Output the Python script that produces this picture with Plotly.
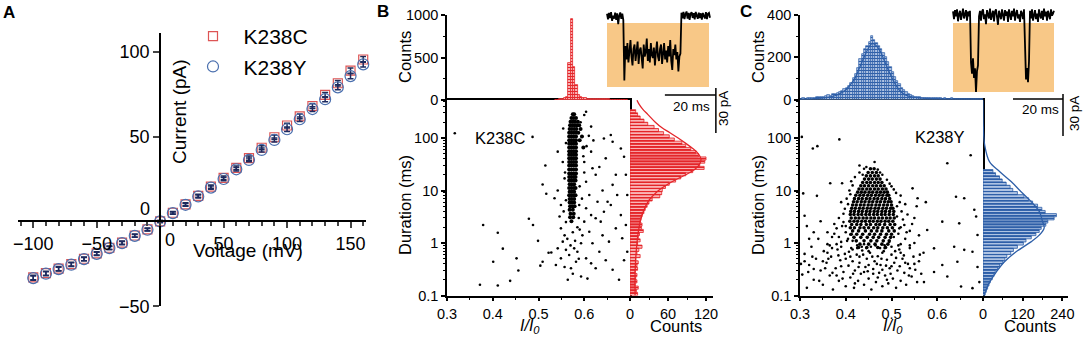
import numpy as np
import plotly.graph_objects as go

W, H = 1084, 337
FONT = "Liberation Sans, Arial, Helvetica, sans-serif"

# ======================= DATA =======================
# ---- Panel A : I-V curves ----
voltage_mV = [-100, -90, -80, -70, -60, -50, -40, -30, -20, -10, 0, 10, 20, 30, 40, 50,
              60, 70, 80, 90, 100, 110, 120, 130, 140, 150, 160]
current_K238C = [-33.0, -30.5, -27.8, -25.2, -22.0, -18.8, -15.5, -12.5, -8.3, -4.7, 0.0, 5.1,
                 10.1, 15.1, 20.5, 25.7, 31.6, 37.3, 43.4, 49.6, 56.5, 61.9, 68.0, 74.5, 81.4,
                 88.8, 95.4]
current_K238Y = [-33.4, -30.8, -28.1, -25.5, -22.2, -19.1, -15.7, -12.8, -8.5, -4.9, 0.0, 4.9,
                 9.8, 14.7, 19.9, 25.0, 30.7, 36.2, 42.1, 48.0, 54.3, 60.2, 66.2, 72.0, 79.0,
                 85.6, 92.5]
sem_K238C = [1.3, 1.2, 1.2, 1.1, 1.1, 1.0, 1.0, 0.9, 0.9, 0.8, 0.6, 0.8, 0.9, 0.9, 1.0, 1.0,
             1.1, 1.2, 1.2, 1.3, 1.4, 1.4, 1.5, 1.5, 1.6, 1.6, 1.7]
sem_K238Y = [1.2, 1.2, 1.1, 1.1, 1.0, 1.0, 0.9, 0.9, 0.8, 0.8, 0.6, 0.7, 0.8, 0.9, 0.9, 1.0,
             1.0, 1.1, 1.2, 1.2, 1.3, 1.3, 1.4, 1.5, 1.5, 1.6, 1.6]

# ---- Panel B (K238C) ----
topB_bin0, topB_binw = 0.538, 0.005
topB_counts = [4, 5, 8, 10, 18, 40, 430, 950, 390, 180, 60, 40, 28, 20, 16, 12, 10, 12, 9, 8,
               10, 7, 6, 6, 5, 5, 4, 4, 3, 3, 3, 2]
rightB_log0, rightB_logw = -1.0, 0.06
rightB_counts = [12, 10, 13, 8, 11, 9, 11, 8, 12, 11, 13, 9, 16, 11, 14, 19, 12, 16, 13, 15,
                 21, 18, 19, 16, 17, 19, 22, 24, 27, 30, 35, 47, 50, 51, 56, 62, 72, 80, 88, 99,
                 117, 110, 118, 120, 108, 104, 96, 88, 82, 70, 62, 53, 45, 38, 28, 22, 16, 12, 9]
fitB_dur = [525, 447, 355, 282, 200, 158, 126, 100, 79, 63, 50, 40, 32, 25, 20, 16, 12.6, 10,
            7.9, 6.3, 4.0, 2.5, 1.6, 1.0, 0.5, 0.25, 0.126, 0.1]
fitB_cnt = [11, 14, 20, 28, 40, 50, 63, 76, 88, 99, 108, 112, 110, 102, 88, 72, 57, 45, 36, 29,
            21, 16, 13, 11, 9, 8, 8, 8]
bandB_dur = [282, 240, 204, 174, 148, 126, 107, 91, 78, 66, 56, 48, 41, 35, 30, 25, 21, 18,
             15.5, 13.2, 11.2, 9.5, 8.1, 6.9, 5.9, 5.0, 4.3, 3.6, 3.1, 2.6]
bandB_x = [[0.575, 0.578], [0.572, 0.577, 0.582], [0.570, 0.575, 0.580, 0.586],
           [0.569, 0.574, 0.579, 0.584, 0.589], [0.568, 0.573, 0.578, 0.583, 0.592],
           [0.567, 0.572, 0.577, 0.582, 0.587], [0.567, 0.572, 0.577, 0.582, 0.595],
           [0.567, 0.572, 0.577, 0.582, 0.590], [0.567, 0.572, 0.577, 0.582],
           [0.567, 0.572, 0.577, 0.582, 0.598], [0.567, 0.572, 0.577, 0.582],
           [0.567, 0.572, 0.577, 0.582], [0.567, 0.572, 0.577, 0.582],
           [0.567, 0.572, 0.577, 0.582], [0.567, 0.572, 0.577, 0.582],
           [0.567, 0.572, 0.577, 0.582], [0.567, 0.572, 0.577, 0.582],
           [0.567, 0.572, 0.577, 0.581], [0.567, 0.572, 0.577, 0.581], [0.568, 0.573, 0.578],
           [0.567, 0.572, 0.577, 0.581], [0.568, 0.573, 0.578], [0.567, 0.572, 0.577, 0.581],
           [0.568, 0.573, 0.578], [0.568, 0.573, 0.578], [0.569, 0.574, 0.579],
           [0.568, 0.575], [0.570, 0.577], [0.569, 0.576], [0.572]]
eventsB = [(0.317, 123), (0.487, 105), (0.379, 2.2), (0.411, 1.57), (0.422, 0.78), (0.401, 0.44),
           (0.452, 0.51), (0.456, 0.30), (0.438, 0.19), (0.372, 0.16), (0.411, 0.155),
           (0.479, 2.9), (0.488, 2.2), (0.499, 1.1), (0.504, 0.37), (0.509, 0.44), (0.515, 30),
           (0.509, 13), (0.517, 8.7), (0.522, 0.65), (0.528, 0.66), (0.535, 7.1), (0.542, 55),
           (0.546, 3.2), (0.549, 1.9), (0.553, 1.06), (0.557, 0.35), (0.564, 0.2), (0.575, 0.26),
           (0.582, 0.44), (0.593, 0.23), (0.604, 0.51), (0.607, 0.21), (0.615, 0.41),
           (0.625, 0.33), (0.633, 0.68), (0.647, 0.47), (0.662, 0.31), (0.676, 0.2),
           (0.687, 0.47), (0.694, 0.68), (0.683, 1.23), (0.669, 1.9), (0.654, 1.06), (0.64, 1.4),
           (0.618, 0.99), (0.611, 1.64), (0.6, 2.55), (0.625, 2.96), (0.643, 3.94), (0.658, 5.3),
           (0.68, 3.4), (0.691, 2.2), (0.672, 8.2), (0.662, 12.8), (0.64, 10), (0.625, 20),
           (0.633, 28), (0.647, 41), (0.662, 85), (0.68, 63), (0.687, 44), (0.691, 20),
           (0.694, 8.2), (0.643, 98), (0.658, 114), (0.615, 165), (0.604, 317), (0.6, 275),
           (0.618, 26.5), (0.604, 14.7), (0.611, 8.2), (0.629, 6.1), (0.651, 6.1), (0.669, 20),
           (0.636, 2.55), (0.615, 3.4), (0.589, 5.3), (0.604, 4.6), (0.549, 5.3), (0.542, 10),
           (0.557, 17), (0.553, 35), (0.554, 152), (0.557, 1.4), (0.56, 0.74), (0.567, 0.59),
           (0.578, 0.79), (0.571, 0.33), (0.585, 0.68), (0.593, 0.99), (0.596, 1.4),
           (0.542, 0.79), (0.549, 0.51), (0.538, 0.38), (0.56, 2.5), (0.59, 1.8), (0.555, 4),
           (0.588, 3), (0.595, 7), (0.56, 6.5), (0.59, 12), (0.6, 22), (0.598, 45), (0.605, 70),
           (0.61, 110), (0.592, 200), (0.56, 80), (0.558, 22), (0.6, 35), (0.615, 55),
           (0.62, 90), (0.585, 2.0), (0.563, 1.2), (0.575, 1.6), (0.58, 1.1), (0.57, 0.9),
           (0.588, 0.5)]
traceB_dt = 0.4
traceB_open1 = [1.5, -2.2, 2.0, -1.4, 2.6, -3.2, 0.3, -1.8, 2.2, -2.5, 1.7, -5.5, 0.2, 2.4,
                -1.9, 1.6, -2.8]
traceB_block = [-43, -20, -29, -18, -31, -24, -16, -27, -33, -22, -19, -30, -25, -17, -32, -23,
                -21, -29, -35, -19, -27, -24, -15, -30, -22, -31, -18, -26, -28, -21, -33, -24,
                -17, -27, -30, -22, -19, -32, -25, -18, -29, -23, -31, -20, -27, -16, -30, -36,
                -22, -26, -19, -29, -24, -37, -27, -25]
traceB_open2 = [2.2, -1.5, 2.8, -2.1, 1.4, 3.0, -1.8, 2.1, -2.6, 1.6, 2.5, -1.3, 1.9, -2.2, 2.7,
                0.2, -1.9, 2.3, -1.4, 1.8, -2.4, 2.0, 0.3, -1.7, 2.6, -2.0, 1.5, 2.1, -1.2]
traceB_starts = [0.0, 6.8, 29.2]

# ---- Panel C (K238Y) ----
topC_bin0, topC_binw = 0.3025, 0.005
topC_counts = [4, 5, 4, 6, 8, 7, 9, 11,
               12, 14, 13, 17, 19, 18, 24, 26,
               30, 34, 40, 48, 55, 65, 80, 100,
               120, 150, 190, 215, 240, 255, 270, 300,
               282, 268, 255, 240, 222, 200, 178, 155,
               130, 108, 88, 72, 56, 44, 34, 26,
               20, 16, 13, 11, 10, 8, 9, 7,
               7, 6, 6, 5, 6, 5, 4, 5,
               4, 4, 5, 3, 4, 3, 4, 3,
               3, 3, 2, 3, 4, 3, 2, 3]
fitC_top_x = [0.30, 0.33, 0.36, 0.38, 0.40, 0.41, 0.42, 0.43, 0.44, 0.45, 0.457, 0.465, 0.475,
              0.485, 0.495, 0.505, 0.515, 0.525, 0.54, 0.56, 0.60, 0.70]
fitC_top_y = [2, 4, 10, 20, 45, 70, 100, 150, 200, 245, 265, 258, 230, 180, 130, 85, 50, 28,
              14, 8, 4, 2]
rightC_log0, rightC_logw = -1.0, 0.06
rightC_counts = [6, 10, 14, 18, 22, 28, 33, 37, 44, 50, 60, 66, 72, 84, 92, 104, 122, 130, 146,
                 160, 170, 176, 190, 196, 215, 222, 188, 178, 165, 150, 138, 124, 104, 90, 82,
                 70, 58, 50, 38, 30]
fitC_dur = [525, 158, 74, 35, 23, 14.8, 9.5, 6.2, 4.0, 2.57, 1.95, 1.41, 1.05, 0.68, 0.44,
            0.28, 0.18, 0.117, 0.1]
fitC_cnt = [0, 1, 5, 20, 50, 85, 115, 145, 170, 180, 185, 170, 145, 100, 65, 40, 20, 7, 5]
coreC_dur = [26, 22, 19, 16.5, 14.2, 12.3, 10.7, 9.3, 8.1, 7.0, 6.1, 5.3, 4.6, 4.0, 3.5, 3.0,
             2.6, 2.25, 1.95, 1.7, 1.47, 1.28, 1.1, 0.95, 0.82]
coreC_x = [[0.454, 0.462],
           [0.449, 0.458, 0.467],
           [0.445, 0.454, 0.463, 0.471],
           [0.441, 0.450, 0.458, 0.467, 0.475],
           [0.437, 0.446, 0.454, 0.463, 0.471, 0.479],
           [0.433, 0.441, 0.450, 0.459, 0.467, 0.476, 0.484],
           [0.429, 0.437, 0.446, 0.454, 0.463, 0.471, 0.480, 0.488],
           [0.426, 0.434, 0.442, 0.451, 0.459, 0.468, 0.476, 0.484, 0.491],
           [0.422, 0.431, 0.439, 0.448, 0.456, 0.465, 0.473, 0.481, 0.490, 0.494],
           [0.419, 0.428, 0.436, 0.445, 0.453, 0.462, 0.470, 0.479, 0.487, 0.496],
           [0.417, 0.425, 0.434, 0.442, 0.451, 0.459, 0.468, 0.476, 0.485, 0.493, 0.499],
           [0.415, 0.423, 0.432, 0.440, 0.449, 0.457, 0.466, 0.474, 0.483, 0.491, 0.500],
           [0.413, 0.421, 0.430, 0.438, 0.447, 0.455, 0.464, 0.472, 0.481, 0.489, 0.498, 0.503],
           [0.411, 0.419, 0.428, 0.436, 0.445, 0.453, 0.462, 0.470, 0.479, 0.487, 0.496, 0.505],
           [0.410, 0.418, 0.427, 0.435, 0.444, 0.452, 0.461, 0.469, 0.478, 0.486, 0.495, 0.504],
           [0.412, 0.421, 0.429, 0.438, 0.446, 0.455, 0.463, 0.472, 0.480, 0.489, 0.497, 0.506],
           [0.409, 0.418, 0.426, 0.435, 0.443, 0.452, 0.460, 0.469, 0.477, 0.486, 0.494, 0.503],
           [0.413, 0.424, 0.433, 0.445, 0.454, 0.466, 0.474, 0.485, 0.497, 0.507],
           [0.410, 0.419, 0.431, 0.440, 0.450, 0.461, 0.470, 0.481, 0.491, 0.502],
           [0.415, 0.428, 0.443, 0.456, 0.468, 0.479, 0.494, 0.506],
           [0.412, 0.424, 0.437, 0.452, 0.463, 0.476, 0.489, 0.500],
           [0.418, 0.433, 0.447, 0.460, 0.472, 0.486, 0.498],
           [0.423, 0.440, 0.455, 0.468, 0.482, 0.495],
           [0.431, 0.450, 0.464, 0.479, 0.492],
           [0.428, 0.446, 0.470, 0.487]]
eventsC = [(0.304, 105), (0.328, 63), (0.338, 70), (0.386, 94), (0.622, 33), (0.673, 47),
           (0.366, 13.7), (0.392, 13.7), (0.307, 8.8), (0.337, 7.9), (0.641, 7.6), (0.659, 7.1),
           (0.575, 6), (0.546, 11), (0.557, 7.1), (0.681, 4.3), (0.685, 3.2), (0.611, 2.55),
           (0.578, 1.77), (0.648, 2.37), (0.688, 1.42), (0.593, 0.79), (0.637, 0.85),
           (0.659, 0.74), (0.677, 0.68), (0.644, 0.44), (0.611, 0.38), (0.688, 0.35),
           (0.593, 0.28), (0.622, 0.23), (0.652, 0.148), (0.677, 0.138), (0.692, 0.18),
           (0.571, 0.18), (0.31, 3.3), (0.315, 2.1), (0.33, 1.6), (0.345, 2.6), (0.32, 1.2),
           # lower band
           (0.305, 0.25), (0.31, 0.62), (0.315, 0.14), (0.32, 0.38), (0.325, 0.85), (0.33, 0.2),
           (0.335, 0.5), (0.34, 1.2), (0.345, 0.3), (0.35, 0.16), (0.352, 0.7), (0.358, 0.42),
           (0.36, 0.95), (0.365, 0.24), (0.368, 0.55), (0.372, 0.13), (0.375, 1.5), (0.378, 0.33),
           (0.382, 0.75), (0.385, 0.19), (0.388, 0.47), (0.392, 2.1), (0.395, 0.28), (0.398, 0.62),
           (0.4, 0.15), (0.403, 1.1), (0.406, 0.37), (0.41, 0.22), (0.412, 0.8), (0.415, 0.45),
           (0.418, 0.14), (0.42, 0.3), (0.424, 0.6), (0.427, 0.19), (0.43, 0.42), (0.433, 0.26),
           (0.436, 0.72), (0.44, 0.16), (0.443, 0.35), (0.446, 0.5), (0.45, 0.21), (0.453, 0.65),
           (0.456, 0.13), (0.46, 0.32), (0.463, 0.45), (0.466, 0.18), (0.47, 0.56), (0.473, 0.27),
           (0.476, 0.38), (0.48, 0.15), (0.483, 0.7), (0.486, 0.24), (0.49, 0.48), (0.493, 0.17),
           (0.496, 0.33), (0.5, 0.6), (0.503, 0.21), (0.506, 0.42), (0.51, 0.14), (0.513, 0.3),
           (0.517, 0.75), (0.52, 0.19), (0.524, 0.5), (0.528, 0.27), (0.532, 0.16), (0.536, 0.4),
           (0.54, 0.9), (0.544, 0.23), (0.548, 0.55), (0.552, 0.31), (0.556, 0.18), (0.56, 0.45),
           (0.565, 0.26), (0.57, 0.65), (0.35, 0.45), (0.38, 0.24), (0.41, 0.55), (0.44, 0.28),
           (0.47, 0.22), (0.5, 0.36), (0.53, 0.42), (0.36, 0.65), (0.39, 0.36), (0.42, 0.17),
           (0.45, 0.38), (0.48, 0.31), (0.51, 0.52), (0.54, 0.33), (0.33, 0.32), (0.31, 0.45),
           (0.46, 0.26), (0.43, 0.55), (0.49, 0.2), (0.52, 0.65), (0.37, 0.8), (0.4, 0.5),
           (0.318, 0.28), (0.327, 0.55), (0.342, 0.19), (0.355, 0.33), (0.362, 0.5),
           (0.371, 0.27), (0.384, 0.58), (0.393, 0.21), (0.407, 0.68), (0.416, 0.26),
           (0.428, 0.35), (0.438, 0.6), (0.448, 0.29), (0.458, 0.55), (0.468, 0.4),
           (0.478, 0.5), (0.488, 0.37), (0.498, 0.26), (0.508, 0.7), (0.518, 0.36),
           (0.527, 0.58), (0.538, 0.24), (0.55, 0.4), (0.562, 0.6), (0.302, 0.4),
           (0.39, 0.85), (0.425, 0.8), (0.455, 0.85), (0.485, 0.8), (0.515, 0.9),
           # halo around the core
           (0.37, 1.3), (0.38, 1.9), (0.385, 3.0), (0.39, 1.05), (0.395, 2.5), (0.398, 4.5),
           (0.4, 1.6), (0.402, 7), (0.405, 1.2), (0.408, 10), (0.41, 1.45), (0.412, 15),
           (0.415, 1.1), (0.42, 18), (0.425, 0.9), (0.43, 22), (0.435, 0.85), (0.44, 26),
           (0.445, 0.8), (0.47, 25), (0.475, 0.8), (0.48, 20), (0.485, 0.9), (0.49, 16),
           (0.495, 1.05), (0.5, 12), (0.505, 1.3), (0.51, 9), (0.515, 1.5), (0.518, 6),
           (0.52, 2.0), (0.522, 4), (0.525, 2.8), (0.53, 1.2), (0.535, 3.5), (0.54, 1.7),
           (0.545, 2.3), (0.55, 1.0), (0.555, 5), (0.56, 1.4), (0.39, 6), (0.38, 0.95),
           (0.375, 2.3), (0.52, 8), (0.53, 5.5), (0.54, 0.8), (0.36, 1.6), (0.365, 0.9),
           (0.55, 3), (0.52, 0.95), (0.415, 0.75), (0.45, 0.7), (0.48, 0.65), (0.5, 0.85),
           (0.465, 0.9), (0.44, 0.95), (0.43, 30), (0.463, 35), (0.395, 3.6), (0.4, 2.1),
           (0.405, 5.5), (0.512, 3.2), (0.517, 1.9), (0.512, 5), (0.41, 8.5), (0.415, 12.5),
           (0.496, 13.5), (0.505, 10.5), (0.437, 20), (0.475, 22), (0.445, 28), (0.385, 1.3),
           (0.528, 2.2), (0.533, 1.6)]
traceC_dt = 0.4
traceC_open1 = [2.5, -3, 3.5, -1, 4, -4.5, 0.5, 3, -3.5, 1, 4.5, -2.5, 0, 3.5, -4, 2.5, -1, 3]
traceC_block1 = [-34, -42, -31, -45, -38, -55, -40, -36]
traceC_open2 = [-1, 3, -4, 2.5, 4, -3, 0.5, -6.5, 3.5, 1, -2.5, 4.5, -3.5, 0, 3, -4.5, 2.5, 4,
                -1, -7, 3, 0.5, -3, 4, 1, -4, 3.5, -0.5, 2.5, -5, 4, 0, -3.5, 3, -1, 4.5, -4, 1,
                3.5, -2.5, 0.5, -5, 3, 1, -3, 4]
traceC_block2 = [-35, -46, -38, -48, -33]
traceC_open3 = [3, -2.5, 4, -4, 0.5, 3.5, -3, 1, -5, 4, 0, -2.5, 3, -3.5, 4.5, -1, 2.5, -4, 3,
                0.5, -3, 4, -0.5, 1, 3]
traceC_starts = [0.0, 7.2, 10.4, 28.8, 30.8]

scale_ms, scale_pA = 20, 30

# ======================= HELPERS =======================
def fx(px):
    return px / W


def fy(py):
    return 1 - py / H


def hbar_polys(log0, logw, counts):
    xs, ys = [], []
    for i, c in enumerate(counts):
        lo = 10 ** (log0 + i * logw)
        hi = 10 ** (log0 + (i + 1) * logw)
        xs += [0, c, c, 0, 0, None]
        ys += [lo, lo, hi, hi, lo, None]
    return xs, ys


def flatten_rows(durs, rows):
    xs, ys = [], []
    for d, row in zip(durs, rows):
        for x in row:
            xs.append(x)
            ys.append(d)
    return xs, ys


def trace_xy(starts, segs, dt):
    t, v = [], []
    for s, seg in zip(starts, segs):
        for i, val in enumerate(seg):
            t.append(s + i * dt)
            v.append(val)
    return t, v


RED, RED_BG = "#e4262a", "#ffd2d2"
BLUE, BLUE_BG = "#2e5fa8", "#c9d8f0"
ORANGE = "#f8c887"

fig = go.Figure()

# ======================= PANEL A =======================
fig.add_trace(go.Scatter(
    x=voltage_mV, y=current_K238C, mode="markers", name="\u2002K238C",
    marker=dict(symbol="square-open", size=9, color="#dd5555", line=dict(width=1.2)),
    error_y=dict(type="data", array=sem_K238C, color="#202a55", thickness=1.5, width=3),
    xaxis="x", yaxis="y", cliponaxis=False))
fig.add_trace(go.Scatter(
    x=voltage_mV, y=current_K238Y, mode="markers", name="\u2002K238Y",
    marker=dict(symbol="circle-open", size=11, color="#4a6fae", line=dict(width=1.2)),
    error_y=dict(type="data", array=sem_K238Y, color="#1d2a60", thickness=1.5, width=3),
    xaxis="x", yaxis="y", cliponaxis=False))

A_xd = [fx(18), fx(366)]
A_yd = [fy(306.3), fy(33)]
A_xr = [-112, 162.2]
A_yr = [-50, 111]
A_xpos = A_yd[0] + (0 - A_yr[0]) / (A_yr[1] - A_yr[0]) * (A_yd[1] - A_yd[0])
A_ypos = A_xd[0] + (0 - A_xr[0]) / (A_xr[1] - A_xr[0]) * (A_xd[1] - A_xd[0])

# ======================= PANEL B =======================
xb, yb = flatten_rows(bandB_dur, bandB_x)
fig.add_trace(go.Scatter(x=[e[0] for e in eventsB], y=[e[1] for e in eventsB], mode="markers",
                         marker=dict(size=2.6, color="black"), xaxis="x2", yaxis="y2",
                         showlegend=False))
fig.add_trace(go.Scatter(x=xb, y=yb, mode="markers", marker=dict(size=4.0, color="black"),
                         xaxis="x2", yaxis="y2", showlegend=False))
topB_x = [topB_bin0 + i * topB_binw for i in range(len(topB_counts))]
fig.add_trace(go.Bar(x=topB_x, y=topB_counts, width=topB_binw, xaxis="x3", yaxis="y3",
                     marker=dict(color=RED_BG, line=dict(color=RED, width=0.8),
                                 pattern=dict(shape="-", fgcolor=RED, bgcolor=RED_BG, size=3,
                                              solidity=0.45)),
                     showlegend=False))
hx, hy = hbar_polys(rightB_log0, rightB_logw, rightB_counts)
fig.add_trace(go.Scatter(x=hx, y=hy, mode="lines", fill="toself", fillcolor=RED_BG,
                         fillpattern=dict(shape="-", fgcolor=RED, bgcolor=RED_BG, size=3,
                                          solidity=0.45),
                         line=dict(color=RED, width=0.8), xaxis="x4", yaxis="y4",
                         showlegend=False))
fig.add_trace(go.Scatter(x=fitB_cnt, y=fitB_dur, mode="lines", line=dict(color=RED, width=1.3,
                         shape="spline"), xaxis="x4", yaxis="y4", showlegend=False))
tB, vB = trace_xy(traceB_starts, [traceB_open1, traceB_block, traceB_open2], traceB_dt)
fig.add_trace(go.Scatter(x=tB, y=vB, mode="lines", line=dict(color="black", width=1.8),
                         xaxis="x5", yaxis="y5", showlegend=False))
sbB_t, sbB_i = 22.7, -52.7
fig.add_trace(go.Scatter(x=[sbB_t, sbB_t + scale_ms, None, sbB_t + scale_ms, sbB_t + scale_ms],
                         y=[sbB_i, sbB_i, None, sbB_i + 4.7, sbB_i + 4.7 - scale_pA],
                         mode="lines", line=dict(color="black", width=1.5),
                         xaxis="x5", yaxis="y5", showlegend=False))

# ======================= PANEL C =======================
xc, yc = flatten_rows(coreC_dur, coreC_x)
fig.add_trace(go.Scatter(x=[e[0] for e in eventsC], y=[e[1] for e in eventsC], mode="markers",
                         marker=dict(size=2.6, color="black"), xaxis="x6", yaxis="y6",
                         showlegend=False))
fig.add_trace(go.Scatter(x=xc, y=yc, mode="markers", marker=dict(size=3.6, color="black"),
                         xaxis="x6", yaxis="y6", showlegend=False))
topC_x = [topC_bin0 + i * topC_binw for i in range(len(topC_counts))]
fig.add_trace(go.Bar(x=topC_x, y=topC_counts, width=topC_binw, xaxis="x7", yaxis="y7",
                     marker=dict(color=BLUE_BG, line=dict(color=BLUE, width=0.7),
                                 pattern=dict(shape="-", fgcolor=BLUE, bgcolor=BLUE_BG, size=3,
                                              solidity=0.45)),
                     showlegend=False))
fig.add_trace(go.Scatter(x=fitC_top_x, y=fitC_top_y, mode="lines",
                         line=dict(color=BLUE, width=1.3, shape="spline"),
                         xaxis="x7", yaxis="y7", showlegend=False))
hx, hy = hbar_polys(rightC_log0, rightC_logw, rightC_counts)
fig.add_trace(go.Scatter(x=hx, y=hy, mode="lines", fill="toself", fillcolor=BLUE_BG,
                         fillpattern=dict(shape="-", fgcolor=BLUE, bgcolor=BLUE_BG, size=3,
                                          solidity=0.45),
                         line=dict(color=BLUE, width=0.8), xaxis="x8", yaxis="y8",
                         showlegend=False))
fig.add_trace(go.Scatter(x=fitC_cnt, y=fitC_dur, mode="lines", line=dict(color=BLUE, width=1.3,
                         shape="spline"), xaxis="x8", yaxis="y8", showlegend=False))
tC, vC = trace_xy(traceC_starts, [traceC_open1, traceC_block1, traceC_open2, traceC_block2,
                                  traceC_open3], traceC_dt)
fig.add_trace(go.Scatter(x=tC, y=vC, mode="lines", line=dict(color="black", width=1.8),
                         xaxis="x9", yaxis="y9", showlegend=False))
sbC_t, sbC_i = 24.0, -60.0
fig.add_trace(go.Scatter(x=[sbC_t, sbC_t + scale_ms, None, sbC_t + scale_ms, sbC_t + scale_ms],
                         y=[sbC_i, sbC_i, None, sbC_i + 3.6, sbC_i + 3.6 - scale_pA],
                         mode="lines", line=dict(color="black", width=1.5),
                         xaxis="x9", yaxis="y9", showlegend=False))

# ======================= LAYOUT =======================
tickA = dict(family=FONT, size=18, color="black")
tickB = dict(family=FONT, size=14.5, color="black")
LW = 1.6
log_rng = [-1, (243 - 100) / 52.5]
sc_yd = [fy(295.5), fy(100)]


def lin_axis(**kw):
    d = dict(showline=True, linecolor="black", linewidth=LW, ticks="outside", ticklen=4,
             tickwidth=LW, tickcolor="black", showgrid=False, zeroline=False, tickfont=tickB,
             automargin=False)
    d.update(kw)
    return d


hidden = dict(visible=False, showgrid=False, zeroline=False, automargin=False)

layout = dict(
    template="none",
    width=W, height=H, margin=dict(l=0, r=0, t=0, b=0, pad=0, autoexpand=False),
    paper_bgcolor="white", plot_bgcolor="rgba(0,0,0,0)",
    font=dict(family=FONT, color="black"),
    showlegend=True,
    legend=dict(x=fx(193), y=fy(16), xanchor="left", yanchor="top", font=dict(size=21),
                bgcolor="rgba(0,0,0,0)", tracegroupgap=0, borderwidth=0),
    bargap=0,
    # Panel A
    xaxis=dict(domain=A_xd, range=A_xr, anchor="free", position=A_xpos, showline=True,
               linecolor="black", linewidth=2, ticks="outside", ticklen=6, tickwidth=2,
               tickvals=[-100, -50, 50, 100, 150], tickfont=tickA, showgrid=False,
               zeroline=False, automargin=False,
               minor=dict(dtick=10, tick0=0, ticks="outside", ticklen=3.5, tickwidth=1.5)),
    yaxis=dict(domain=A_yd, range=A_yr, anchor="free", position=A_ypos, showline=True,
               linecolor="black", linewidth=2, ticks="outside", ticklen=6, tickwidth=2,
               tickvals=[-50, 50, 100], tickfont=tickA, showgrid=False, zeroline=False,
               automargin=False),
    # Panel B
    xaxis2=lin_axis(domain=[fx(447), fx(630)], range=[0.3, 0.7], anchor="y2", mirror=True,
                    tickvals=[0.3, 0.4, 0.5, 0.6],
                    minor=dict(dtick=0.05, tick0=0.3, ticks="outside", ticklen=2.5, tickwidth=1)),
    yaxis2=lin_axis(domain=sc_yd, type="log", range=log_rng, anchor="x2", mirror=True,
                    tickvals=[0.1, 1, 10, 100], ticktext=["0.1", "1", "10", "100"],
                    minor=dict(ticks="outside", ticklen=2.5, tickwidth=1, dtick="D1")),
    xaxis3=dict(domain=[fx(447), fx(630)], range=[0.3, 0.7], anchor="y3", **hidden),
    yaxis3=lin_axis(domain=[fy(100), fy(15)], range=[0, 1000], anchor="x3",
                    tickvals=[0, 500, 1000],
                    minor=dict(dtick=250, ticks="outside", ticklen=2.5, tickwidth=1)),
    xaxis4=lin_axis(domain=[fx(630), fx(713)], range=[0, 131], anchor="y4",
                    tickvals=[0, 60, 120],
                    minor=dict(dtick=30, ticks="outside", ticklen=2.5, tickwidth=1)),
    yaxis4=dict(domain=sc_yd, type="log", range=log_rng, anchor="x4", **hidden),
    xaxis5=dict(domain=[fx(600), fx(730)], range=[-2.745, 48.24], anchor="y5", **hidden),
    yaxis5=dict(domain=[fy(140), fy(10)], range=[-82.67, 4], anchor="x5", **hidden),
    # Panel C
    xaxis6=lin_axis(domain=[fx(800), fx(983)], range=[0.3, 0.7], anchor="y6", mirror=True,
                    tickvals=[0.3, 0.4, 0.5, 0.6],
                    minor=dict(dtick=0.05, tick0=0.3, ticks="outside", ticklen=2.5, tickwidth=1)),
    yaxis6=lin_axis(domain=sc_yd, type="log", range=log_rng, anchor="x6", mirror=True,
                    tickvals=[0.1, 1, 10, 100], ticktext=["0.1", "1", "10", "100"],
                    minor=dict(ticks="outside", ticklen=2.5, tickwidth=1, dtick="D1")),
    xaxis7=dict(domain=[fx(800), fx(983)], range=[0.3, 0.7], anchor="y7", **hidden),
    yaxis7=lin_axis(domain=[fy(99.5), fy(15)], range=[0, 400], anchor="x7",
                    tickvals=[0, 200, 400],
                    minor=dict(dtick=100, ticks="outside", ticklen=2.5, tickwidth=1)),
    xaxis8=lin_axis(domain=[fx(983), fx(1068)], range=[0, 257], anchor="y8",
                    tickvals=[0, 120, 240],
                    minor=dict(dtick=60, ticks="outside", ticklen=2.5, tickwidth=1)),
    yaxis8=dict(domain=sc_yd, type="log", range=log_rng, anchor="x8", **hidden),
    xaxis9=dict(domain=[fx(945), fx(1084)], range=[-3.2, 52.4], anchor="y9", **hidden),
    yaxis9=dict(domain=[fy(145), fy(5)], range=[-92.9, 7.14], anchor="x9", **hidden),
)

shapes = [
    dict(type="rect", xref="x5", yref="y5", x0=0, x1=40, y0=-4.7, y1=-47.3,
         fillcolor=ORANGE, line=dict(width=0), layer="below"),
    dict(type="rect", xref="x9", yref="y9", x0=0, x1=40.4, y0=-5.7, y1=-55,
         fillcolor=ORANGE, line=dict(width=0), layer="below"),
]


def ann(text, px, py, size, angle=0, bold=False, **kw):
    if bold:
        text = "<b>" + text + "</b>"
    d = dict(text=text, x=fx(px), y=fy(py), xref="paper", yref="paper", showarrow=False,
             font=dict(family=FONT, size=size, color="black"), textangle=angle,
             xanchor="center", yanchor="middle")
    d.update(kw)
    return d


annotations = [
    ann("A", 9, 12, 17, bold=True),
    ann("B", 383, 11, 17, bold=True),
    ann("C", 746, 11, 17, bold=True),
    ann("Current (pA)", 180, 112, 19, angle=-90),
    ann("Voltage (mV)", 248, 250, 19),
    ann("0", 170, 240, 18),
    ann("0", 145, 209, 18),
    ann("Counts", 405, 57, 16.5, angle=-90),
    ann("Duration (ms)", 405, 205, 16.5, angle=-90),
    ann("<i>I/I</i><sub><i>0</i></sub>", 530, 326, 16),
    ann("Counts", 676, 326, 16.5),
    ann("K238C", 500, 138, 16.5),
    ann("20 ms", 691, 107, 13.5),
    ann("30 pA", 724, 108, 13.5, angle=-90),
    ann("Counts", 758, 57, 16.5, angle=-90),
    ann("Duration (ms)", 758, 205, 16.5, angle=-90),
    ann("<i>I/I</i><sub><i>0</i></sub>", 893, 326, 16),
    ann("Counts", 1030, 326, 16.5),
    ann("K238Y", 940, 137, 16.5),
    ann("20 ms", 1040, 110, 13.5),
    ann("30 pA", 1074, 114, 13.5, angle=-90),
]

fig.update_layout(**layout, shapes=shapes, annotations=annotations)
fig.write_html("out.html", config={"displayModeBar": False},
               post_script="document.body.style.margin='0px';"
                           "document.body.style.padding='0px';")
